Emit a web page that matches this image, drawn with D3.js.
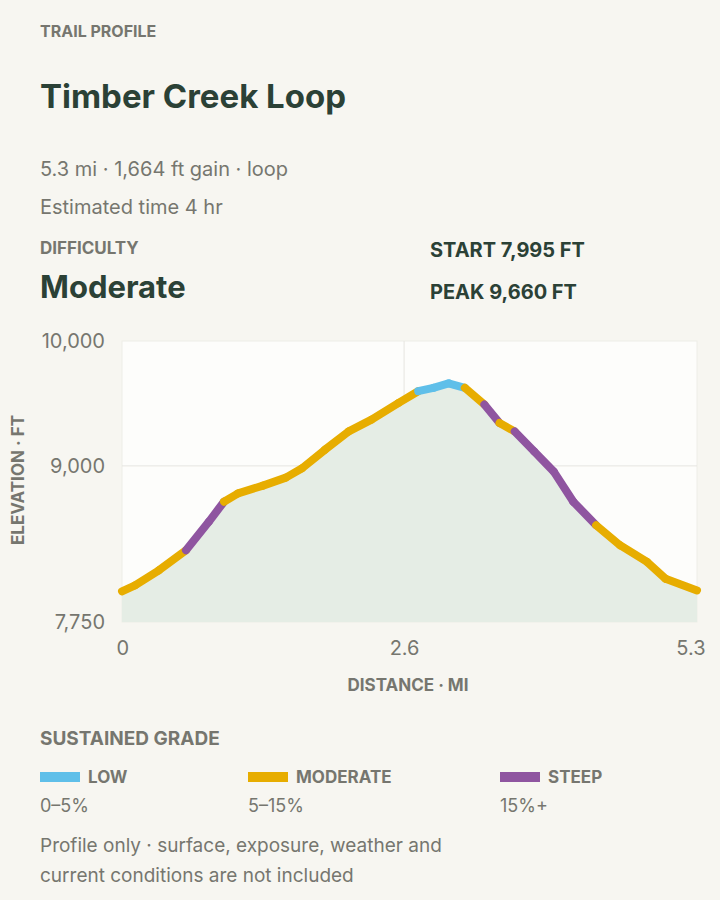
<!DOCTYPE html>
<html><head><meta charset="utf-8">
<script src="https://cdn.jsdelivr.net/npm/d3@7"></script>
<style>
body{margin:0;background:#f7f6f1;font-family:Inter,"Noto Sans",sans-serif;}
</style></head>
<body>
<script>
// trail data
var distances = [0, 0.12, 0.34, 0.59, 0.80, 0.94, 1.07, 1.30, 1.51, 1.66, 1.87, 2.09, 2.30, 2.55, 2.73, 2.87, 3.01, 3.16, 3.34, 3.48, 3.62, 3.80, 3.98, 4.16, 4.37, 4.59, 4.84, 5.01, 5.3];
var elevations = [7995, 8043, 8164, 8324, 8552, 8713, 8780, 8842, 8906, 8981, 9129, 9276, 9370, 9504, 9598, 9625, 9660, 9625, 9491, 9343, 9276, 9115, 8954, 8713, 8525, 8365, 8231, 8097, 8003];
var yTicks = [7750, 9000, 10000];
var xTicks = [0, 2.6, 5.3];
var gradeNames = ["LOW", "MODERATE", "STEEP"];
var gradeRanges = ["0–5%", "5–15%", "15%+"];
var gradeColors = ["#5fbfe9", "#e7ad00", "#8f55a0"];

var w = 720, h = 900;
var svg = d3.select("body").append("svg").attr("width", w).attr("height", h);
var ink = "#2b4136", grey = "#76766f";

function txt(x, y, s, size, weight, color, anchor){
  return svg.append("text").attr("x", x).attr("y", y).text(s)
    .style("font-size", size + "px").style("font-weight", weight)
    .style("fill", color).attr("text-anchor", anchor || "start");
}
txt(40, 37, "TRAIL PROFILE", 16, 700, grey);
txt(40, 108, "Timber Creek Loop", 33, 700, ink);
txt(40, 176, "5.3 mi · 1,664 ft gain · loop", 20, 400, grey);
txt(40, 214, "Estimated time 4 hr", 20, 400, grey);
txt(40, 254, "DIFFICULTY", 17, 700, grey);
txt(40, 298, "Moderate", 31, 700, ink);
txt(430, 257, "START 7,995 FT", 20, 700, ink);
txt(430, 299, "PEAK 9,660 FT", 20, 700, ink);

var pLeft = 122, pRight = 697, pTop = 341, pBottom = 622;
var x = d3.scaleLinear().domain([0, 5.3]).range([pLeft, pRight]);
var y = d3.scaleLinear().domain([7750, 10000]).range([pBottom, pTop]);

svg.append("rect").attr("x", pLeft).attr("y", pTop).attr("width", pRight - pLeft).attr("height", pBottom - pTop)
  .style("fill", "#fdfdfb").style("stroke", "#eeede8");
// grid
svg.append("g").selectAll("line").data([9000]).enter().append("line")
  .attr("x1", pLeft).attr("x2", pRight).attr("y1", function(d){ return y(d); }).attr("y2", function(d){ return y(d); })
  .style("stroke", "#e6e5e0");
svg.append("line").attr("x1", x(2.6)).attr("x2", x(2.6)).attr("y1", pTop).attr("y2", pBottom).style("stroke", "#e6e5e0");

var pts = distances.map(function(d, i){ return [d, elevations[i]]; });
var area = d3.area().x(function(d){ return x(d[0]); }).y0(pBottom).y1(function(d){ return y(d[1]); });
svg.append("path").datum(pts).attr("d", area).style("fill", "#e5ede5");

function gradeClass(a, b){
  var g = Math.abs(b[1] - a[1]) / ((b[0] - a[0]) * 5280);
  return g < 0.05 ? 0 : (g < 0.15 ? 1 : 2);
}
var segs = d3.pairs(pts);
svg.append("g").selectAll("line").data(segs).enter().append("line")
  .attr("x1", function(d){ return x(d[0][0]); }).attr("y1", function(d){ return y(d[0][1]); })
  .attr("x2", function(d){ return x(d[1][0]); }).attr("y2", function(d){ return y(d[1][1]); })
  .style("stroke", function(d){ return gradeColors[gradeClass(d[0], d[1])]; })
  .style("stroke-width", 8).style("stroke-linecap", "round");

// axes
var yAxis = svg.append("g").attr("transform", "translate(" + (pLeft - 14) + ",0)")
  .call(d3.axisLeft(y).tickValues(yTicks).tickSize(0).tickFormat(d3.format(",")));
var xAxis = svg.append("g").attr("transform", "translate(0," + (pBottom + 16) + ")")
  .call(d3.axisBottom(x).tickValues(xTicks).tickSize(0).tickFormat(function(d){ return d; }));
[xAxis, yAxis].forEach(function(a){
  a.select(".domain").remove();
  a.selectAll("text").style("font-size", "20px").style("fill", grey).style("font-family", "Inter,sans-serif");
});
xAxis.selectAll("text").attr("dy", "0.71em").attr("text-anchor", function(d){ return d === 5.3 ? "end" : (d === 0 ? "start" : "middle"); })
  .attr("dx", function(d){ return d === 5.3 ? 8 : (d === 0 ? -6 : 0); });
txt(408, 691, "DISTANCE · MI", 17, 700, grey, "middle");
txt(0, 0, "ELEVATION · FT", 17, 700, grey, "middle").attr("transform", "translate(24,480) rotate(-90)");

// legend
txt(40, 745, "SUSTAINED GRADE", 19, 700, grey);
var lx = [40, 248, 500];
gradeNames.forEach(function(n, i){
  svg.append("rect").attr("x", lx[i]).attr("y", 772).attr("width", 40).attr("height", 10).style("fill", gradeColors[i]);
  txt(lx[i] + 48, 783, n, 17, 700, grey);
  txt(lx[i], 812, gradeRanges[i], 18, 400, grey);
});
txt(40, 852, "Profile only · surface, exposure, weather and", 19, 400, grey);
txt(40, 882, "current conditions are not included", 19, 400, grey);
</script>
</body></html>
